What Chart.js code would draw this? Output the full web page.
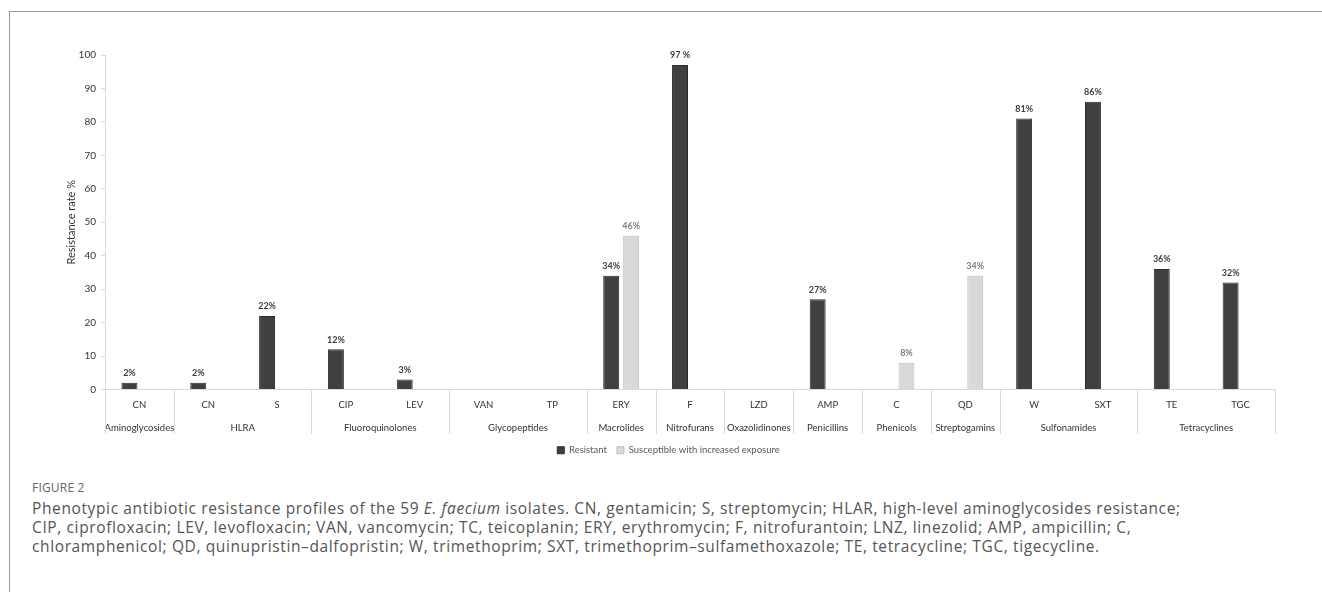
<!DOCTYPE html>
<html>
<head>
<meta charset="utf-8">
<script src="https://cdn.jsdelivr.net/npm/chart.js@4.4.1/dist/chart.umd.min.js"></script>
<style>
    body { margin: 0; background: #fff; width: 1322px; height: 592px; overflow: hidden; position: relative; }
    .frame { position: absolute; left: 9px; top: 11px; width: 1330px; height: 600px; border-top: 1px solid #999; border-left: 1px solid #999; }
    .chart-box { position: absolute; left: 0; top: 0; width: 1322px; height: 470px; }
    .caption { position: absolute; left: 32px; top: 479px; font-family: "Open Sans", Lato, sans-serif; color: #555; white-space: nowrap; }
    .caption .fig { font-size: 12px; letter-spacing: 0.2px; color: #666; margin-bottom: 3px; }
    .caption .text { font-size: 15.5px; line-height: 19px; letter-spacing: 0.62px; }
</style>
</head>
<body>
<div class="frame"></div>
<div class="chart-box"><canvas id="resistanceChart"></canvas></div>
<div class="caption">
    <div class="fig">FIGURE 2</div>
    <div class="text">Phenotypic antibiotic resistance profiles of the 59 <i>E. faecium</i> isolates. CN, gentamicin; S, streptomycin; HLAR, high-level aminoglycosides resistance;<br>CIP, ciprofloxacin; LEV, levofloxacin; VAN, vancomycin; TC, teicoplanin; ERY, erythromycin; F, nitrofurantoin; LNZ, linezolid; AMP, ampicillin; C,<br>chloramphenicol; QD, quinupristin–dalfopristin; W, trimethoprim; SXT, trimethoprim–sulfamethoxazole; TE, tetracycline; TGC, tigecycline.</div>
</div>
<script>
// Antibiotics (x axis) and the class each one belongs to
const antibiotics = ['CN', 'CN', 'S', 'CIP', 'LEV', 'VAN', 'TP', 'ERY', 'F', 'LZD', 'AMP', 'C', 'QD', 'W', 'SXT', 'TE', 'TGC'];
const drugClasses = ['Aminoglycosides', 'HLRA', 'HLRA', 'Fluoroquinolones', 'Fluoroquinolones', 'Glycopeptides', 'Glycopeptides',
    'Macrolides', 'Nitrofurans', 'Oxazolidinones', 'Penicillins', 'Phenicols', 'Streptogamins', 'Sulfonamides', 'Sulfonamides',
    'Tetracyclines', 'Tetracyclines'];

// Resistance rates (%), null = no bar
const resistant = [2, 2, 22, 12, 3, null, null, 34, 97, null, 27, null, null, 81, 86, 36, 32];
const increasedExposure = [null, null, null, null, null, null, null, 46, null, null, null, 8, 34, null, null, null, null];

const yTicks = [0, 10, 20, 30, 40, 50, 60, 70, 80, 90, 100];

const fontFamily = 'Lato, "Open Sans", sans-serif';

// Percentage labels above each bar
const barLabels = {
    id: 'barLabels',
    afterDatasetsDraw(chart) {
        const ctx = chart.ctx;
        ctx.save();
        ctx.font = 'bold 9px ' + fontFamily;
        ctx.textAlign = 'center';
        ctx.textBaseline = 'bottom';
        chart.data.datasets.forEach((ds, i) => {
            const meta = chart.getDatasetMeta(i);
            ctx.fillStyle = ds.labelColor;
            meta.data.forEach((bar, j) => {
                const v = ds.data[j];
                if (v == null) return;
                const text = antibiotics[j] === 'F' ? v + ' %' : v + '%';
                ctx.fillText(text, bar.x, bar.y - 5);
            });
        });
        ctx.restore();
    }
};

// Second row of x labels: drug class names with separators
const classGroups = {
    id: 'classGroups',
    afterDraw(chart) {
        const ctx = chart.ctx;
        const x = chart.scales.x;
        const half = (x.getPixelForValue(1) - x.getPixelForValue(0)) / 2;
        const top = chart.chartArea.bottom;
        ctx.save();
        ctx.strokeStyle = '#d9d9d9';
        ctx.lineWidth = 1;
        ctx.fillStyle = '#333';
        ctx.font = '9.5px ' + fontFamily;
        ctx.textAlign = 'center';
        ctx.textBaseline = 'middle';
        let start = 0;
        for (let i = 1; i <= drugClasses.length; i++) {
            if (i === drugClasses.length || drugClasses[i] !== drugClasses[start]) {
                const left = x.getPixelForValue(start) - half;
                const right = x.getPixelForValue(i - 1) + half;
                ctx.fillText(drugClasses[start], (left + right) / 2, top + 38);
                [left, right].forEach(px => {
                    ctx.beginPath();
                    ctx.moveTo(Math.round(px) + 0.5, top);
                    ctx.lineTo(Math.round(px) + 0.5, top + 44);
                    ctx.stroke();
                });
                start = i;
            }
        }
        ctx.restore();
    }
};

const ctx = document.getElementById('resistanceChart').getContext('2d');
const resistanceChart = new Chart(ctx, {
    type: 'bar',
    data: {
        labels: antibiotics,
        datasets: [{
            label: 'Resistant',
            data: resistant,
            backgroundColor: '#404040',
            borderColor: '#2b2b2b',
            borderWidth: 1,
            labelColor: '#404040'
        }, {
            label: 'Susceptible with increased exposure',
            data: increasedExposure,
            backgroundColor: '#d9d9d9',
            borderColor: '#bfbfbf',
            borderWidth: 1,
            labelColor: '#7f7f7f'
        }]
    },
    options: {
        responsive: true,
        maintainAspectRatio: false,
        animation: false,
        categoryPercentage: 0.58,
        barPercentage: 0.8,
        layout: {
            padding: { left: 62, right: 47, top: 55, bottom: 5 }
        },
        plugins: {
            legend: {
                position: 'bottom',
                labels: {
                    boxWidth: 7,
                    boxHeight: 7,
                    padding: 10,
                    color: '#595959',
                    font: { family: fontFamily, size: 9.5 }
                }
            },
            tooltip: { enabled: false }
        },
        scales: {
            x: {
                grid: { display: false, drawTicks: false },
                border: { color: '#d9d9d9' },
                ticks: {
                    color: '#333',
                    padding: 10,
                    maxRotation: 0,
                    font: { family: fontFamily, size: 9.5 }
                },
                afterFit: (scale) => { scale.height = 46; }
            },
            y: {
                min: 0,
                max: 100,
                afterBuildTicks: (scale) => { scale.ticks = yTicks.map(v => ({ value: v })); },
                grid: { drawOnChartArea: false, color: '#d9d9d9', tickLength: 4 },
                border: { color: '#d9d9d9' },
                ticks: {
                    color: '#333',
                    padding: 5,
                    font: { family: fontFamily, size: 10 }
                },
                title: {
                    display: true,
                    text: 'Resistance rate %',
                    color: '#333',
                    padding: 3,
                    font: { family: fontFamily, size: 11 }
                },
                afterFit: (scale) => { scale.width = 43; }
            }
        }
    },
    plugins: [barLabels, classGroups]
});
</script>
</body>
</html>
